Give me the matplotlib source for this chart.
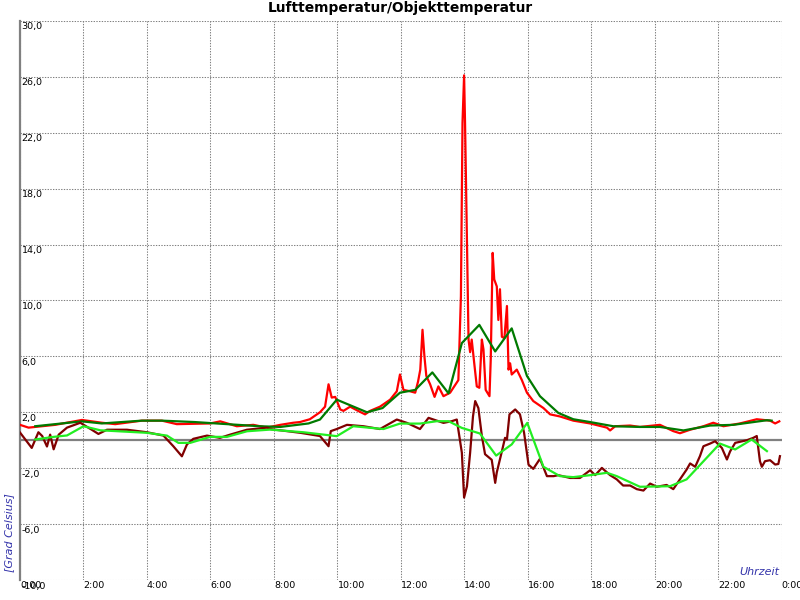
import matplotlib
matplotlib.use("Agg")
from matplotlib import pyplot as plt

# Lufttemperatur (rot) und gleitender Mittelwert (dunkelgruen)
air_t = [0.0, 0.27, 0.48, 1.11, 1.95, 2.58, 3.0, 3.84, 4.47, 4.94,
         5.99, 6.31, 6.83, 7.35, 7.78, 8.2, 8.61, 8.82, 9.13, 9.45,
         9.61, 9.72, 9.82, 9.93, 10.09, 10.19, 10.4, 10.65, 10.87, 11.03,
         11.34, 11.66, 11.87, 11.97, 12.08, 12.29, 12.45, 12.54, 12.61, 12.68,
         12.74, 12.8, 12.92, 13.06, 13.18, 13.34, 13.55, 13.81, 13.89, 13.94,
         13.99, 14.02, 14.08, 14.13, 14.18, 14.23, 14.31, 14.39, 14.47, 14.55,
         14.6, 14.67, 14.79, 14.83, 14.89, 14.94, 15.02, 15.07, 15.12, 15.18,
         15.26, 15.34, 15.39, 15.44, 15.49, 15.65, 15.81, 15.97, 16.17, 16.49,
         16.7, 17.01, 17.43, 17.96, 18.49, 18.59, 18.75, 19.22, 19.53, 20.16,
         20.58, 20.79, 21.11, 21.53, 21.84, 22.16, 22.68, 23.21, 23.63, 23.79,
         23.92]
air_v = [1.1, 0.9, 0.95, 1.1, 1.45, 1.25, 1.15, 1.4, 1.4, 1.15,
         1.2, 1.35, 1.0, 1.1, 0.9, 1.1, 1.25, 1.3, 1.5, 2.0,
         2.4, 4.0, 3.05, 3.1, 2.2, 2.1, 2.4, 2.1, 1.85, 2.1,
         2.4, 2.9, 3.5, 4.7, 3.6, 3.5, 3.4, 4.2, 5.05, 7.9,
         6.0, 4.6, 4.0, 3.1, 3.85, 3.15, 3.4, 4.3, 10.3, 22.7,
         26.1, 22.7, 14.3, 7.2, 6.3, 7.2, 5.5, 3.85, 3.75, 7.2,
         6.5, 3.6, 3.15, 5.8, 13.4, 11.5, 11.0, 8.6, 10.8, 7.4,
         7.3, 9.6, 5.05, 5.5, 4.7, 5.05, 4.3, 3.4, 2.8, 2.3,
         1.85, 1.7, 1.4, 1.2, 0.9, 0.7, 1.0, 1.05, 0.95, 1.1,
         0.65, 0.5, 0.75, 1.0, 1.25, 1.0, 1.2, 1.5, 1.4, 1.2,
         1.35]

air_avg_t = [0.48, 1.95, 2.58, 3.84, 4.47, 5.5, 7.55, 8.2, 9.09, 9.45,
             9.98, 10.93, 11.42, 11.97, 12.45, 12.99, 13.5, 13.92, 14.47, 14.97,
             15.49, 15.97, 16.38, 16.96, 17.43, 17.96, 18.69, 19.53, 20.16, 20.9,
             21.74, 22.47, 23.53, 23.68]
air_avg_v = [1.0, 1.35, 1.2, 1.4, 1.4, 1.3, 1.0, 0.95, 1.2, 1.48,
             2.9, 2.0, 2.3, 3.4, 3.6, 4.85, 3.35, 6.95, 8.25, 6.35,
             8.0, 4.6, 3.15, 1.95, 1.5, 1.3, 1.0, 0.95, 0.95, 0.7,
             1.05, 1.1, 1.43, 1.4]

# Objekttemperatur (dunkelrot) und gleitender Mittelwert (hellgruen)
obj_t = [0.0, 0.37, 0.58, 0.7, 0.85, 0.95, 1.06, 1.22, 1.48, 1.9,
         2.26, 2.47, 2.74, 3.37, 4.0, 4.52, 4.83, 5.1, 5.26, 5.46,
         5.89, 6.3, 6.62, 7.15, 7.78, 7.88, 8.83, 9.45, 9.72, 9.79,
         9.98, 10.3, 10.82, 11.34, 11.87, 12.19, 12.6, 12.87, 13.34, 13.6,
         13.76, 13.92, 13.99, 14.08, 14.18, 14.27, 14.34, 14.44, 14.55, 14.65,
         14.86, 14.97, 15.02, 15.18, 15.28, 15.34, 15.42, 15.6, 15.75, 15.88,
         16.02, 16.17, 16.38, 16.6, 16.81, 16.96, 17.33, 17.64, 17.96, 18.12,
         18.33, 18.59, 18.8, 19.0, 19.22, 19.43, 19.64, 19.85, 20.06, 20.37,
         20.58, 20.79, 21.0, 21.11, 21.27, 21.42, 21.53, 21.74, 21.9, 22.11,
         22.27, 22.37, 22.53, 22.9, 23.1, 23.21, 23.31, 23.37, 23.47, 23.63,
         23.79, 23.89, 23.94]
obj_v = [0.55, -0.55, 0.57, 0.3, -0.45, 0.4, -0.65, 0.4, 0.9, 1.25,
         0.75, 0.45, 0.75, 0.75, 0.57, 0.33, -0.43, -1.15, -0.3, 0.1,
         0.33, 0.17, 0.4, 0.75, 0.9, 0.8, 0.53, 0.3, -0.43, 0.65,
         0.8, 1.1, 1.0, 0.8, 1.48, 1.24, 0.8, 1.6, 1.24, 1.36,
         1.48, -0.9, -4.1, -3.3, -0.9, 1.7, 2.8, 2.3, 0.3, -1.0,
         -1.4, -3.05, -2.3, -0.8, 0.17, 0.05, 1.85, 2.2, 1.85, 0.53,
         -1.75, -2.05, -1.33, -2.57, -2.57, -2.5, -2.7, -2.7, -2.15, -2.5,
         -1.98, -2.5, -2.8, -3.24, -3.24, -3.5, -3.6, -3.1, -3.33, -3.2,
         -3.5, -2.8, -2.1, -1.66, -1.9, -1.14, -0.43, -0.24, -0.07, -0.55,
         -1.38, -0.8, -0.19, 0.0, 0.17, 0.3, -1.5, -1.9, -1.5, -1.43,
         -1.74, -1.7, -1.14]

obj_avg_t = [0.48, 1.06, 1.48, 2.0, 2.53, 4.0, 4.63, 4.99, 5.36, 5.99,
             6.52, 7.15, 7.88, 8.93, 9.98, 10.5, 11.45, 11.97, 12.6, 13.13,
             13.5, 13.92, 14.49, 15.0, 15.49, 15.98, 16.49, 17.01, 17.43, 17.96,
             18.49, 18.8, 19.53, 20.48, 21.0, 22.05, 22.53, 23.05, 23.53]
obj_avg_v = [0.05, 0.24, 0.34, 1.0, 0.71, 0.53, 0.33, -0.19, -0.19, 0.24,
             0.24, 0.64, 0.76, 0.57, 0.29, 1.0, 0.8, 1.19, 1.19, 1.36,
             1.36, 0.88, 0.48, -1.1, -0.3, 1.24, -1.9, -2.57, -2.64, -2.5,
             -2.33, -2.57, -3.33, -3.29, -2.8, -0.24, -0.66, 0.05, -0.78]

x_ticks = list(range(0, 25, 2))
x_labels = ["0:00", "2:00", "4:00", "6:00", "8:00", "10:00", "12:00",
            "14:00", "16:00", "18:00", "20:00", "22:00", "0:00"]
y_ticks = list(range(-10, 31, 4))
y_labels = ["-10,0", "-6,0", "-2,0", "2,0", "6,0", "10,0", "14,0",
            "18,0", "22,0", "26,0", "30,0"]

fig = plt.figure(figsize=(8, 6), dpi=100)
ax = fig.add_axes([0.025, 0.0333, 0.9523, 0.932])
ax.set_xlim(0, 24)
ax.set_ylim(-10, 30)

ax.set_xticks(x_ticks)
ax.set_xticklabels(x_labels, fontsize=6.8, ha="left")
ax.set_yticks(y_ticks)
ax.set_yticklabels([])
ax.tick_params(length=0, pad=1)
ax.grid(True, color="#808080", linestyle=(0, (1.3, 1.3)), linewidth=0.75)

for s in ["top", "right", "bottom"]:
    ax.spines[s].set_visible(False)
ax.spines["left"].set_color("#808080")
ax.spines["left"].set_linewidth(1.6)

# y-Beschriftung innerhalb der Zeichenflaeche, unter der Gitterlinie
for v, lab in zip(y_ticks, y_labels):
    ax.text(0.002, v - 0.12, lab, transform=ax.get_yaxis_transform(),
            ha="left", va="top", fontsize=6.8)

ax.axhline(0, color="#808080", lw=1.6, zorder=2)

ax.plot(air_t, air_v, color="#ff0000", lw=1.6, zorder=3)
ax.plot(air_avg_t, air_avg_v, color="#007a00", lw=1.6, zorder=4)
ax.plot(obj_t, obj_v, color="#800000", lw=1.6, zorder=5)
ax.plot(obj_avg_t, obj_avg_v, color="#22ee22", lw=1.6, zorder=6)

fig.text(0.5, 0.986, "Lufttemperatur/Objekttemperatur", ha="center",
         va="center", fontsize=9.9, fontweight="bold")
fig.text(0.011, 1 - 533 / 600, "[Grad Celsius]", rotation=90, ha="center",
         va="center", fontsize=8, style="italic", color="#3333aa")
fig.text(779 / 800, 1 - 572 / 600, "Uhrzeit", ha="right", va="center",
         fontsize=8, style="italic", color="#3333aa")

plt.savefig("out.png", dpi=100)
